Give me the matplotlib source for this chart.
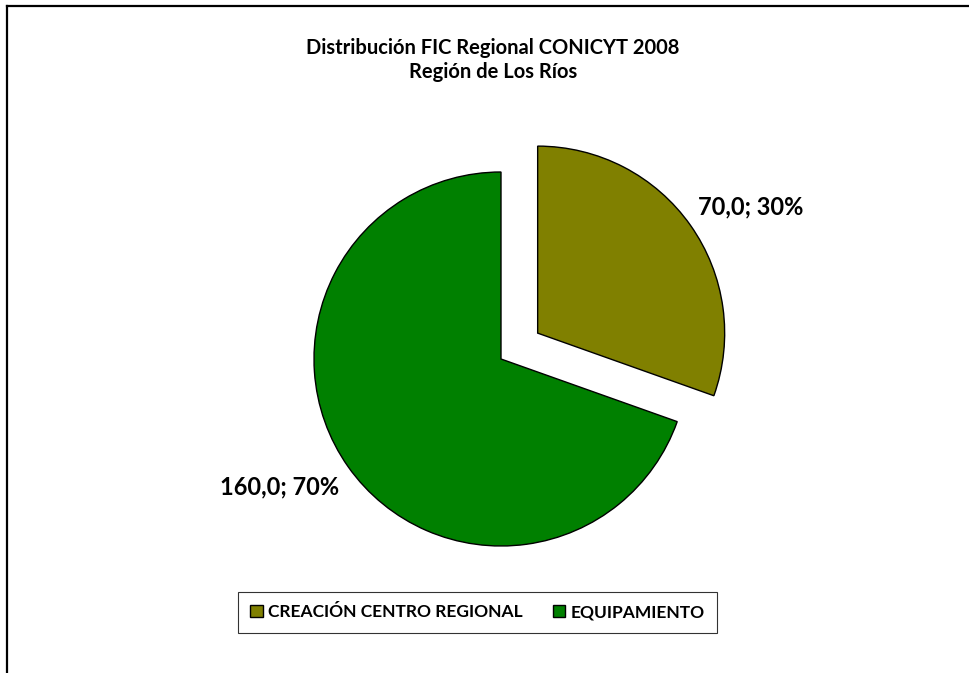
import matplotlib
matplotlib.use("Agg")
import matplotlib.pyplot as plt
from matplotlib.lines import Line2D
from matplotlib.patches import Patch

plt.rcParams['font.family'] = ['Lato', 'DejaVu Sans']

categories = ['CREACIÓN CENTRO REGIONAL', 'EQUIPAMIENTO']
values = [70.0, 160.0]
colors = ['#808000', '#008000']
title = 'Distribución FIC Regional CONICYT 2008\nRegión de Los Ríos'

W, H = 970, 673
fig = plt.figure(figsize=(W / 100, H / 100), dpi=100)
ax = fig.add_axes([0, 0, 1, 1])

total = sum(values)
radius = 187
# explode is in data units in matplotlib, so scale by the radius
wedges, _ = ax.pie(values, colors=colors, startangle=90, counterclock=False,
                   explode=[0.24 * radius, 0], center=(501, H - 359), radius=radius,
                   wedgeprops=dict(edgecolor='black', linewidth=1))

ax.set_xlim(0, W)
ax.set_ylim(0, H)
ax.set_aspect('equal')
ax.axis('off')

# data labels "value; percent"
label_pos = [(751, H - 207), (280, H - 487)]
for v, (x, y) in zip(values, label_pos):
    txt = f"{v:.1f}".replace('.', ',') + f"; {v / total * 100:.0f}%"
    ax.text(x, y, txt, ha='center', va='center', fontsize=17, fontweight='bold')

fig.text(493 / W, 1 - 60 / H, title, ha='center', va='center',
         fontsize=14.5, fontweight='bold', linespacing=1.3)

handles = [Patch(facecolor=c, edgecolor='black', linewidth=1) for c in colors]
leg = fig.legend(handles, categories, ncol=2, loc='center',
                 bbox_to_anchor=(477.5 / W, 1 - 612 / H),
                 frameon=True, fancybox=False, edgecolor='black',
                 prop=dict(size=12.5, weight='bold'), handlelength=0.72,
                 handleheight=0.72, handletextpad=0.3, columnspacing=1.75,
                 borderpad=0.72, borderaxespad=0)
leg.get_frame().set_linewidth(0.8)

# chart border (top and left edges visible)
fig.add_artist(Line2D([7 / W, 1], [1 - 6 / H, 1 - 6 / H], color='black', linewidth=1.6))
fig.add_artist(Line2D([7 / W, 7 / W], [0, 1 - 6 / H], color='black', linewidth=1.6))

fig.savefig('out.png', dpi=100, facecolor='white')
